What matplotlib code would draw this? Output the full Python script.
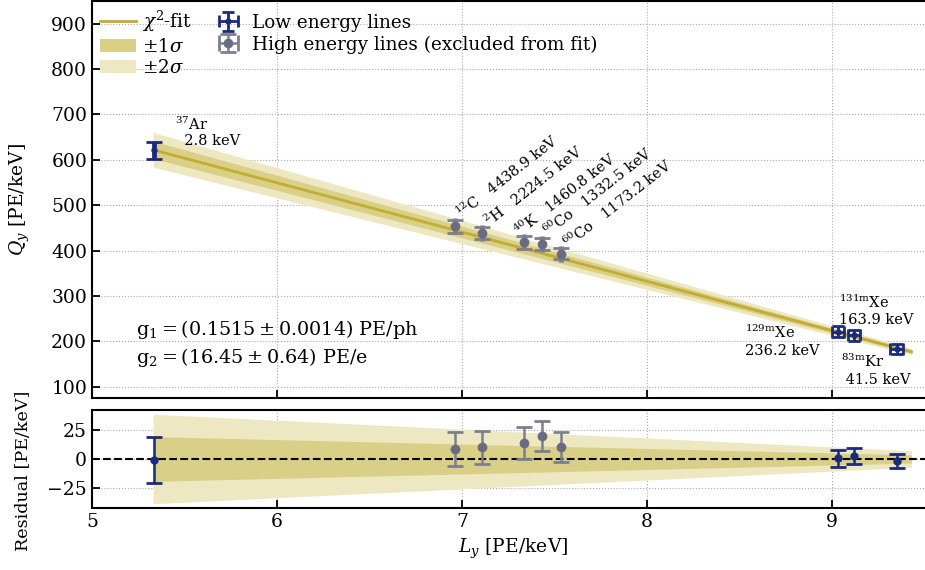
import numpy as np
import matplotlib
matplotlib.use("Agg")
import matplotlib.pyplot as plt

plt.rcParams['font.family'] = 'DejaVu Serif'
plt.rcParams['mathtext.fontset'] = 'dejavuserif'

# fit result (Qy = g2/W - g2/g1 * Ly)
g1 = 0.1515
g2 = 16.45
W = 0.0137  # keV

# low energy lines (used in fit)
low_ly = [5.335, 9.03, 9.12, 9.35]
low_ly_err = [0.005, 0.032, 0.032, 0.035]
low_qy = [620.5, 220.9, 213.1, 183.8]
low_qy_err = [19.5, 12.0, 12.0, 11.0]    # as drawn in the upper panel
low_res_err = [19.5, 7.3, 7.0, 6.0]     # as drawn in the residual panel

# high energy lines (excluded)
high_ly = [6.96, 7.11, 7.335, 7.43, 7.535]
high_ly_err = [0.005, 0.005, 0.005, 0.005, 0.005]
high_qy = [453.7, 438.7, 417.8, 413.5, 392.9]
high_qy_err = [14.5, 14.0, 13.5, 13.0, 12.6]

# 1 sigma band half width
band_ly = [5.33, 6.0, 7.0, 8.0, 9.0, 9.43]
band_sig = [19.2, 16.6, 12.8, 9.0, 5.2, 3.5]

c_fit = '#c1ad31'
c_1s = '#d9cf86'
c_2s = '#ede8c2'
c_low = '#1c2a7c'
c_high = '#6a6a80'
c_high_e = '#7e7e92'
fs = 13.5


def fit(x):
    return g2 / W - g2 / g1 * np.asarray(x)


fig = plt.figure(figsize=(9.25, 5.7), dpi=100)
ax1 = fig.add_axes([0.0995, 0.3018, 0.910, 0.6965])
ax2 = fig.add_axes([0.0995, 0.1088, 0.910, 0.1719], sharex=ax1)

bx = np.array(band_ly)
bs = np.array(band_sig)

# top panel
ax1.fill_between(bx, fit(bx) - 2 * bs, fit(bx) + 2 * bs, color=c_2s, lw=0, label=r'$\pm 2\sigma$', zorder=1)
ax1.fill_between(bx, fit(bx) - bs, fit(bx) + bs, color=c_1s, lw=0, label=r'$\pm 1\sigma$', zorder=2)
ax1.plot(bx, fit(bx), color=c_fit, lw=2, label=r'$\chi^2$-fit', zorder=3)
ax1.errorbar(low_ly[:1], low_qy[:1], yerr=low_qy_err[:1], xerr=low_ly_err[:1], fmt='o', ms=3.5,
             color=c_low, elinewidth=1.8, capsize=5.5, capthick=2, zorder=5)
ax1.errorbar(low_ly[1:], low_qy[1:], yerr=low_qy_err[1:], xerr=low_ly_err[1:], fmt='o', ms=3.5,
             color=c_low, elinewidth=2, capsize=4.3, capthick=2, label='Low energy lines', zorder=5)
ax1.errorbar(high_ly, high_qy, yerr=high_qy_err, xerr=high_ly_err, fmt='o', ms=6,
             color=c_high, ecolor=c_high_e, elinewidth=1.8, capsize=5.5, capthick=2,
             label='High energy lines (excluded from fit)', zorder=5)

h, l = ax1.get_legend_handles_labels()
order = [2, 1, 0, 3, 4]
ax1.legend([h[i] for i in order], [l[i] for i in order], loc='upper left', ncol=2,
           frameon=False, fontsize=13.2, bbox_to_anchor=(-0.004, 1.008), borderaxespad=0.2,
           handlelength=2.0, handletextpad=0.3, columnspacing=1.0, labelspacing=0.2)

# labels of the lines
ax1.text(5.45, 625, "$^{37}$Ar\n  2.8 keV", fontsize=10.5, va='bottom', linespacing=1.1)
ax1.text(8.53, 238, "$^{129\\mathrm{m}}$Xe\n236.2 keV", fontsize=10.5, va='top', linespacing=1.2)
ax1.text(9.04, 305, "$^{131\\mathrm{m}}$Xe\n163.9 keV", fontsize=10.5, va='top', linespacing=1.2)
ax1.text(9.05, 174, "$^{83\\mathrm{m}}$Kr\n 41.5 keV", fontsize=10.5, va='top', linespacing=1.2)

rot_labels = [r"$^{12}$C   4438.9 keV", r"$^{2}$H   2224.5 keV", r"$^{40}$K   1460.8 keV",
              r"$^{60}$Co   1332.5 keV", r"$^{60}$Co   1173.2 keV"]
rot_x = [7.01, 7.16, 7.32, 7.48, 7.585]
rot_y = [463, 445, 423, 423, 397]
for s, x, y in zip(rot_labels, rot_x, rot_y):
    ax1.text(x, y, s, fontsize=10.5, rotation=38, rotation_mode='anchor', ha='left', va='bottom')

ax1.text(5.24, 227, r"$\mathrm{g_1} = (0.1515 \pm 0.0014)$ PE/ph", fontsize=13.8, va='center')
ax1.text(5.24, 164, r"$\mathrm{g_2} = (16.45 \pm 0.64)$ PE/e", fontsize=13.8, va='center')

ax1.set_xlim(5, 9.55)
ax1.set_ylim(75, 950)
ax1.set_yticks(np.arange(100, 901, 100))
ax1.set_ylabel(r"$Q_y$ [PE/keV]", fontsize=fs)
ax1.yaxis.set_label_coords(-0.071, 0.5)
ax1.tick_params(labelbottom=False)

# residual panel
ax2.fill_between(bx, -2 * bs, 2 * bs, color=c_2s, lw=0, zorder=1)
ax2.fill_between(bx, -bs, bs, color=c_1s, lw=0, zorder=2)
ax2.axhline(0, color='k', ls='--', lw=1.5, zorder=3)
ax2.errorbar(low_ly, np.array(low_qy) - fit(low_ly), yerr=low_res_err, fmt='o', ms=5,
             color=c_low, elinewidth=1.8, capsize=5.5, capthick=2, zorder=5)
ax2.errorbar(high_ly, np.array(high_qy) - fit(high_ly), yerr=high_qy_err, fmt='o', ms=6,
             color=c_high, ecolor=c_high_e, elinewidth=1.8, capsize=5.5, capthick=2, zorder=5)
ax2.set_ylim(-42, 42)
ax2.set_yticks([-25, 0, 25])
ax2.set_xticks([5, 6, 7, 8, 9])
ax2.set_ylabel("Residual [PE/keV]", fontsize=12.6)
ax2.yaxis.set_label_coords(-0.071, 0.378)
ax2.set_xlabel(r"$L_y$ [PE/keV]", fontsize=fs)

for ax in (ax1, ax2):
    ax.grid(True, ls=':', color='#aaaaaa', lw=0.8)
    ax.set_axisbelow(True)
    ax.tick_params(direction='in', length=6, width=1.3, labelsize=fs, top=False, right=False)
    for sp in ax.spines.values():
        sp.set_linewidth(1.5)

fig.savefig('out.png', dpi=100)
